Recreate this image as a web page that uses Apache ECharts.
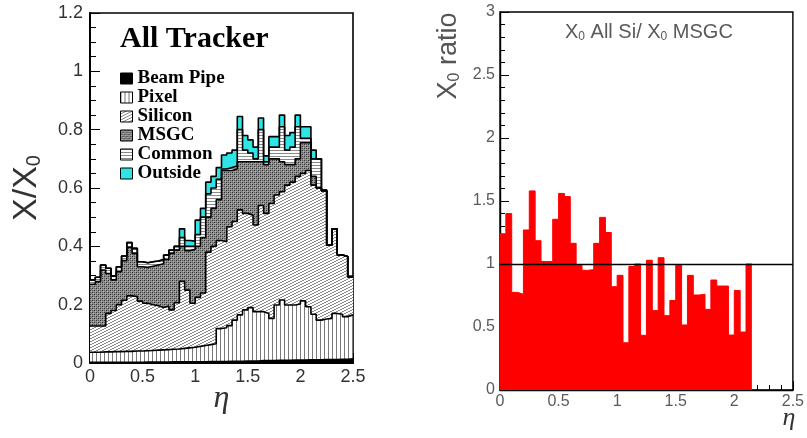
<!DOCTYPE html>
<html>
<head>
<meta charset="utf-8">
<script src="https://cdn.jsdelivr.net/npm/echarts@6/dist/echarts.min.js"></script>
<style>
  html, body { margin: 0; padding: 0; background: #fff; }
  #chart { width: 807px; height: 438px; }
</style>
</head>
<body>
<div id="chart"></div>
<script>
// Histogram binning in eta
const binWidth = 0.05;

// Material budget per detector component (X/X0 contribution per eta bin, 0..2.5)
const beamPipe = [
  0.002, 0.002, 0.002, 0.002, 0.002, 0.002, 0.002, 0.002, 0.002, 0.002,
  0.003, 0.003, 0.003, 0.003, 0.003, 0.004, 0.004, 0.004, 0.004, 0.004,
  0.004, 0.004, 0.005, 0.005, 0.005, 0.005, 0.006, 0.006, 0.006, 0.007,
  0.007, 0.007, 0.008, 0.008, 0.008, 0.009, 0.009, 0.009, 0.010, 0.010,
  0.010, 0.011, 0.011, 0.011, 0.012, 0.012, 0.012, 0.013, 0.013, 0.014
];
const pixel = [
  0.035, 0.035, 0.036, 0.036, 0.037, 0.037, 0.038, 0.038, 0.039, 0.039,
  0.039, 0.040, 0.041, 0.042, 0.043, 0.043, 0.044, 0.046, 0.048, 0.050,
  0.053, 0.056, 0.058, 0.061, 0.113, 0.116, 0.122, 0.141, 0.159, 0.175,
  0.183, 0.169, 0.168, 0.162, 0.145, 0.190, 0.207, 0.190, 0.189, 0.192,
  0.203, 0.182, 0.156, 0.136, 0.139, 0.141, 0.158, 0.154, 0.146, 0.151
];
const silicon = [
  0.090, 0.090, 0.089, 0.132, 0.141, 0.161, 0.175, 0.190, 0.187, 0.171,
  0.163, 0.157, 0.152, 0.145, 0.149, 0.135, 0.159, 0.230, 0.198, 0.151,
  0.168, 0.180, 0.317, 0.334, 0.302, 0.295, 0.339, 0.338, 0.360, 0.331,
  0.317, 0.297, 0.364, 0.343, 0.394, 0.377, 0.371, 0.411, 0.421, 0.438,
  0.437, 0.467, 0.443, 0.453, 0.439, 0.252, 0.290, 0.203, 0.206, 0.131
];
const msgc = [
  0.143, 0.152, 0.192, 0.137, 0.105, 0.113, 0.136, 0.167, 0.148, 0.118,
  0.123, 0.132, 0.140, 0.150, 0.160, 0.194, 0.180, 0.120, 0.135, 0.185,
  0.175, 0.190, 0.120, 0.130, 0.140, 0.244, 0.193, 0.180, 0.165, 0.177,
  0.183, 0.217, 0.150, 0.167, 0.153, 0.124, 0.103, 0.070, 0.060, 0.060,
  0.105, 0.095, 0.030, 0, 0, 0, 0, 0, 0, 0
];
const common = [
  0.015, 0.015, 0.017, 0.018, 0.013, 0.017, 0.016, 0.016, 0.017, 0.017,
  0.016, 0.015, 0.014, 0.015, 0.015, 0.011, 0.013, 0.030, 0.015, 0.010,
  0.040, 0.070, 0.080, 0.070, 0.070, 0.005, 0.010, 0.010, 0.110, 0.040,
  0.030, 0.010, 0.110, 0.010, 0.040, 0.040, 0.120, 0.050, 0.060, 0.110,
  0.015, 0.015, 0.060, 0.100, 0.003, 0, 0, 0, 0, 0
];
const outside = [
  0, 0, 0, 0, 0, 0, 0, 0, 0, 0,
  0, 0, 0, 0, 0, 0, 0, 0.030, 0.020, 0.018,
  0.050, 0.030, 0.040, 0.040, 0.040, 0.048, 0.050, 0.055, 0.045, 0.050,
  0.045, 0.040, 0.040, 0.020, 0.036, 0.036, 0.040, 0.050, 0.050, 0.040,
  0.040, 0.040, 0.030, 0, 0, 0, 0, 0, 0, 0
];

// Ratio X0(all-silicon layout) / X0(MSGC layout), bins 0..2.15
const ratio = [
  1.24, 1.40, 0.775, 0.76, 1.27, 1.58, 1.185, 1.02, 1.02, 1.355,
  1.56, 1.535, 1.164, 0.99, 0.95, 0.955, 1.164, 1.37, 1.25, 0.82,
  0.91, 0.375, 0.98, 1.0, 0.434, 1.03, 0.63, 1.05, 0.59, 0.71,
  0.99, 0.516, 0.91, 0.754, 0.76, 0.64, 0.873, 0.825, 0.825, 0.436,
  0.79, 0.46, 1.0
];
const ratioReference = 1;

// Turn per-bin contents into step points (left edges plus the closing right edge)
function toSteps(vals) {
  const pts = vals.map((v, i) => [+(i * binWidth).toFixed(4), v]);
  pts.push([+(vals.length * binWidth).toFixed(4), vals[vals.length - 1]]);
  return pts;
}

// Small tiled fill patterns in the style of ROOT hatches
function makePattern(w, h, draw) {
  const c = document.createElement('canvas');
  c.width = w; c.height = h;
  const ctx = c.getContext('2d');
  ctx.fillStyle = '#fff';
  ctx.fillRect(0, 0, w, h);
  draw(ctx);
  return { image: c, repeat: 'repeat' };
}
const fillPixel = makePattern(4, 4, ctx => {
  ctx.fillStyle = '#7a7a7a';
  ctx.fillRect(0, 0, 1, 4);
});
const fillSilicon = makePattern(6, 3, ctx => {
  ctx.fillStyle = '#8a8a8a';
  for (let x = 0; x < 6; x++) ctx.fillRect(x, 2 - Math.floor(x / 2), 1, 1);
});
const fillMsgc = makePattern(4, 4, ctx => {
  ctx.fillStyle = '#8e8e8e';
  ctx.fillRect(0, 0, 4, 4);
  ctx.fillStyle = '#2e2e2e';
  ctx.fillRect(0, 0, 1, 1); ctx.fillRect(2, 2, 1, 1);
  ctx.fillStyle = '#5e5e5e';
  ctx.fillRect(2, 0, 1, 1); ctx.fillRect(0, 2, 1, 1);
  ctx.fillStyle = '#b4b4b4';
  ctx.fillRect(1, 1, 1, 1); ctx.fillRect(3, 3, 1, 1);
});
const fillCommon = makePattern(4, 3, ctx => {
  ctx.fillStyle = '#8a8a8a';
  ctx.fillRect(0, 0, 4, 1);
});

const layers = [
  { name: 'Beam Pipe', data: beamPipe, fill: '#000000' },
  { name: 'Pixel', data: pixel, fill: fillPixel },
  { name: 'Silicon', data: silicon, fill: fillSilicon },
  { name: 'MSGC', data: msgc, fill: fillMsgc },
  { name: 'Common', data: common, fill: fillCommon },
  { name: 'Outside', data: outside, fill: '#2fe4e4' }
];

// Running totals: each component is drawn from the axis up to its cumulative top,
// outermost first, so the inner components paint over the lower part.
const running = new Array(beamPipe.length).fill(0);
const stackSeries = layers.map(l => {
  const top = l.data.map((v, i) => (running[i] = +(running[i] + v).toFixed(4)));
  return {
    type: 'line',
    name: l.name,
    xAxisIndex: 0,
    yAxisIndex: 0,
    step: 'end',
    symbol: 'none',
    color: '#000',
    data: toSteps(top),
    lineStyle: { color: '#000', width: 1.6 },
    areaStyle: { color: l.fill, opacity: 1 },
    z: 2
  };
}).reverse();

const sans = 'Liberation Sans';
const serif = 'Liberation Serif';

const chart = echarts.init(document.getElementById('chart'), null, { renderer: 'canvas' });

const option = {
  animation: false,
  backgroundColor: '#fff',
  title: [
    {
      text: 'All Tracker',
      left: 115, top: 18, z: 10,
      textStyle: { fontFamily: serif, fontWeight: 'bold', fontSize: 30, color: '#000', lineHeight: 32 }
    },
    {
      text: '{a|X}{s|0}{a| All Si/ X}{s|0}{a| MSGC}',
      left: 560, top: 16, z: 10,
      textStyle: {
        rich: {
          a: { fontFamily: sans, fontWeight: 'normal', fontSize: 20, color: '#5a5a5a', lineHeight: 22 },
          s: { fontFamily: sans, fontWeight: 'normal', fontSize: 12, color: '#5a5a5a', lineHeight: 8, verticalAlign: 'bottom' }
        }
      }
    }
  ],
  legend: {
    left: 115, top: 64, z: 10,
    orient: 'vertical',
    icon: 'rect',
    itemWidth: 12, itemHeight: 11, itemGap: 0,
    selectedMode: false,
    textStyle: { fontFamily: serif, fontWeight: 'bold', fontSize: 19, color: '#000', lineHeight: 17.4 },
    data: layers.map(l => ({ name: l.name, itemStyle: { color: l.fill, borderColor: '#000', borderWidth: 1 } }))
  },
  grid: [
    { left: 90, top: 13, right: 454, bottom: 75, show: true, borderColor: '#000', borderWidth: 1.6, backgroundColor: 'transparent' },
    { left: 500, top: 12, right: 10, bottom: 48, show: true, borderColor: '#000', borderWidth: 1.4, backgroundColor: 'transparent' }
  ],
  xAxis: [
    {
      type: 'value', gridIndex: 0, min: 0, max: 2.5, interval: 0.5,
      axisLine: { lineStyle: { color: '#000', width: 2 } },
      axisTick: { inside: true, length: 10, lineStyle: { color: '#000', width: 1 } },
      minorTick: { show: true, splitNumber: 5, length: 5, lineStyle: { color: '#000' } },
      splitLine: { show: false },
      axisLabel: { color: '#333', fontFamily: sans, fontSize: 18, margin: 5 },
      name: 'η', nameLocation: 'middle', nameGap: 20, nameMoveOverlap: false,
      nameTextStyle: { fontFamily: serif, fontStyle: 'italic', fontSize: 32, color: '#333' }
    },
    {
      type: 'value', gridIndex: 1, min: 0, max: 2.5, interval: 0.5,
      axisLine: { lineStyle: { color: '#000', width: 1.4 } },
      axisTick: { inside: true, length: 9, lineStyle: { color: '#000', width: 1 } },
      minorTick: { show: true, splitNumber: 5, length: 5, lineStyle: { color: '#000' } },
      splitLine: { show: false },
      axisLabel: { color: '#5a5a5a', fontFamily: sans, fontSize: 16, margin: 4 }
    }
  ],
  yAxis: [
    {
      type: 'value', gridIndex: 0, min: 0, max: 1.2, interval: 0.2,
      axisLine: { show: true, lineStyle: { color: '#000', width: 2 } },
      axisTick: { inside: true, length: 10, lineStyle: { color: '#000', width: 1 } },
      minorTick: { show: true, splitNumber: 4, length: 6, lineStyle: { color: '#000' } },
      splitLine: { show: false },
      axisLabel: { color: '#333', fontFamily: sans, fontSize: 18, margin: 7 },
      name: '{a|X/X}{s|0}', nameLocation: 'middle', nameGap: 46, nameRotate: 90, nameMoveOverlap: false,
      nameTextStyle: {
        rich: {
          a: { fontFamily: sans, fontSize: 34, color: '#333', lineHeight: 34 },
          s: { fontFamily: sans, fontSize: 20, color: '#333', lineHeight: 12, verticalAlign: 'bottom' }
        }
      }
    },
    {
      type: 'value', gridIndex: 1, min: 0, max: 3, interval: 0.5,
      axisLine: { show: true, lineStyle: { color: '#000', width: 1.4 } },
      axisTick: { inside: true, length: 9, lineStyle: { color: '#000', width: 1 } },
      minorTick: { show: true, splitNumber: 5, length: 5, lineStyle: { color: '#000' } },
      splitLine: { show: false },
      axisLabel: { color: '#5a5a5a', fontFamily: sans, fontSize: 16, margin: 5 }
    }
  ],
  graphic: [
    {
      type: 'text', x: 449, y: 56, rotation: Math.PI / 2,
      style: {
        text: '{a|X}{s|0}{a| ratio}',
        align: 'center', verticalAlign: 'middle',
        rich: {
          a: { fontFamily: sans, fontSize: 27, fill: '#555', lineHeight: 28 },
          s: { fontFamily: sans, fontSize: 16, fill: '#555', lineHeight: 10, verticalAlign: 'bottom' }
        }
      }
    },
    {
      type: 'text', x: 789, y: 418,
      style: { text: 'η', font: 'italic 26px "Liberation Serif"', fill: '#333', align: 'center', verticalAlign: 'middle' }
    }
  ],
  series: stackSeries.concat([
    {
      type: 'line',
      name: 'ratio',
      xAxisIndex: 1, yAxisIndex: 1,
      step: 'end',
      symbol: 'none',
      color: '#ff0000',
      data: toSteps(ratio),
      lineStyle: { color: '#ff0000', width: 1 },
      areaStyle: { color: '#ff0000', opacity: 1 },
      markLine: {
        silent: true,
        symbol: ['none', 'none'],
        label: { show: false },
        lineStyle: { color: '#000', width: 1.3, type: 'solid' },
        data: [{ yAxis: ratioReference }]
      },
      z: 3
    }
  ])
};

chart.setOption(option);
</script>
</body>
</html>
